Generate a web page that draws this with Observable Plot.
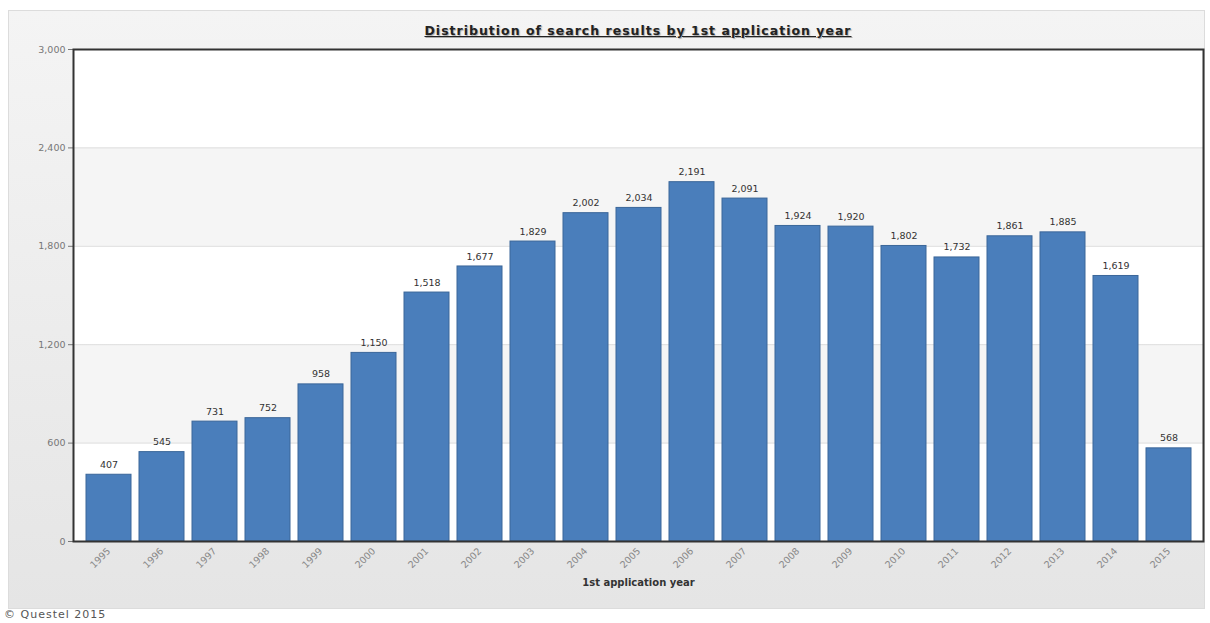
<!DOCTYPE html>
<html>
<head>
<meta charset="utf-8">
<script src="https://cdn.jsdelivr.net/npm/d3@7"></script>
<script src="https://cdn.jsdelivr.net/npm/@observablehq/plot@0.6"></script>
<style>
  html, body { margin: 0; padding: 0; background: #ffffff; }
  #wrap { position: relative; width: 1210px; height: 623px; overflow: hidden; font-family: "DejaVu Sans", Verdana, sans-serif; }
  #panel { position: absolute; left: 8px; top: 10px; width: 1195px; height: 597px;
           background: linear-gradient(#f4f4f4, #e5e5e5); border: 1px solid #dcdcdc; }
  #title { position: absolute; left: 73px; width: 1130px; top: 23px; text-align: center;
           font-weight: bold; font-size: 12.5px; color: #222; text-decoration: underline;
           text-shadow: 1px 1px 1px #aaa; letter-spacing: 1px; }
  #chart { position: absolute; left: 0; top: 0; }
  #caption { position: absolute; left: 4px; top: 609px; font-size: 11px; line-height: 12px; color: #555; letter-spacing: 1px; }
</style>
</head>
<body>
<div id="wrap">
  <div id="panel"></div>
  <div id="chart"></div>
  <div id="title">Distribution of search results by 1st application year</div>
  <div id="caption">© Questel 2015</div>
</div>
<script>
const years = ["1995","1996","1997","1998","1999","2000","2001","2002","2003","2004","2005","2006","2007","2008","2009","2010","2011","2012","2013","2014","2015"];
const counts = [407, 545, 731, 752, 958, 1150, 1518, 1677, 1829, 2002, 2034, 2191, 2091, 1924, 1920, 1802, 1732, 1861, 1885, 1619, 568];
const yTicks = [0, 600, 1200, 1800, 2400, 3000];
const xLabel = "1st application year";

const data = years.map((y, i) => ({year: y, value: counts[i]}));
const fmt = v => d3.format(",")(v);
const bands = yTicks.slice(0, -1).map((t, i) => ({y1: t, y2: yTicks[i + 1], fill: i % 2 === 1 ? "#f5f5f5" : "#ffffff"}));

const chart = Plot.plot({
  width: 1210,
  height: 607,
  marginLeft: 73,
  marginRight: 7,
  marginTop: 49,
  marginBottom: 66,
  style: {background: "transparent", fontFamily: "DejaVu Sans, Verdana, sans-serif"},
  x: {type: "band", domain: years, paddingInner: 0.16, paddingOuter: 0.16, label: null},
  y: {domain: [0, 3000], label: null},
  marks: [
    Plot.rect(bands, {y1: "y1", y2: "y2", fill: d => d.fill}),
    Plot.ruleY(yTicks.slice(1, -1), {stroke: "#dedede", strokeWidth: 1}),
    Plot.barY(data, {x: "year", y: "value", fill: "#4a7ebb", stroke: "#3a6699", strokeWidth: 1}),
    Plot.text(data, {x: "year", y: "value", text: d => fmt(d.value), dy: -10, fontSize: 9.5, fill: "#333", style: "letter-spacing:1.6px"}),
    Plot.axisY(yTicks, {tickFormat: fmt, fontSize: 9.5, color: "#777", tickSize: 5, tickPadding: 3, label: null, style: "letter-spacing:1.5px"}),
    Plot.axisX({tickRotate: -45, tickSize: 0, tickPadding: 8, fontSize: 9.5, color: "#888", label: null, style: "letter-spacing:1.2px"}),
    Plot.frame({stroke: "#333", strokeWidth: 2}),
    Plot.text([xLabel], {frameAnchor: "bottom", dy: 44, fontSize: 10, fontWeight: "bold", fill: "#333", style: "letter-spacing:1.6px"})
  ]
});
document.getElementById("chart").appendChild(chart);
</script>
</body>
</html>
